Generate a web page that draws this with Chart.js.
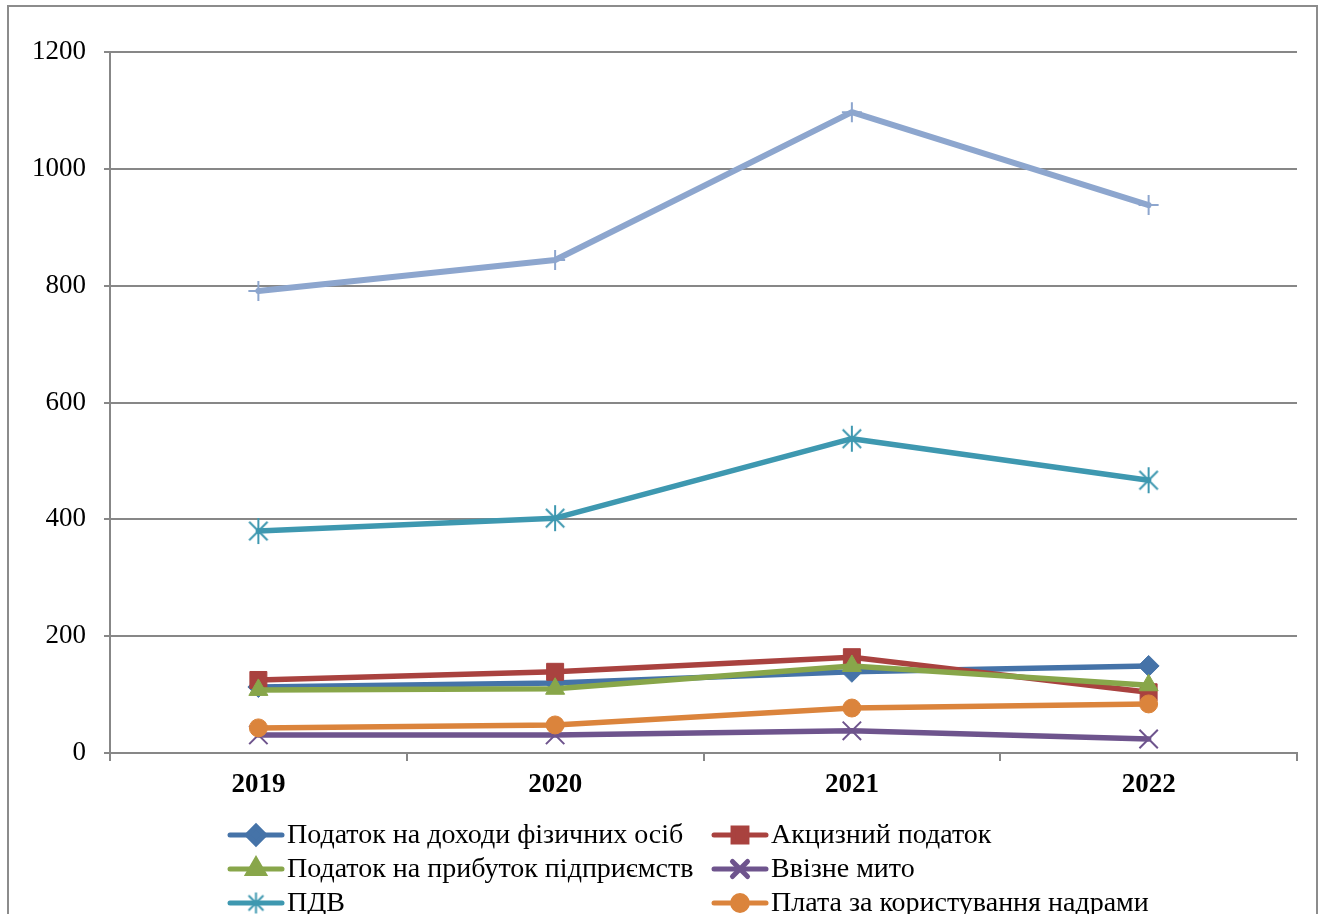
<!DOCTYPE html>
<html>
<head>
<meta charset="utf-8">
<script src="https://cdn.jsdelivr.net/npm/chart.js"></script>
<style>
  html, body { margin: 0; padding: 0; width: 1323px; height: 914px; overflow: hidden; background: #fff; }
  #frame { position: absolute; left: 7px; top: 5px; width: 1307px; height: 1000px; border: 2px solid #8c8c8c; }
  #chart { position: absolute; left: 0; top: 0; }
</style>
</head>
<body>
<div id="frame"></div>
<canvas id="chart" width="1323" height="950"></canvas>
<script>
// Податкові надходження за видами, 2019–2022
const years = ['2019', '2020', '2021', '2022'];

const pdfo      = [113, 120, 139, 149];   // Податок на доходи фізичних осіб
const akcyz     = [125, 139, 164, 104];   // Акцизний податок
const prybutok  = [108, 110, 149, 116];   // Податок на прибуток підприємств
const myto      = [31, 31, 38, 24];       // Ввізне мито
const pdv       = [380, 402, 538, 467];   // ПДВ
const nadra     = [43, 48, 77, 84];       // Плата за користування надрами
const razom     = [791, 844, 1097, 938];  // Разом

const yTicks = [0, 200, 400, 600, 800, 1000, 1200];

const SERIF = '"Liberation Serif", "Times New Roman", serif';
const GRID = '#878787';

// asterisk marker: X with a vertical stroke
function asterisk(color, r, w) {
  const c = document.createElement('canvas');
  const s = Math.ceil(2 * r + 4);
  c.width = s; c.height = s;
  const g = c.getContext('2d');
  const m = s / 2, d = r * Math.SQRT1_2;
  g.strokeStyle = color; g.lineWidth = w;
  g.beginPath();
  g.moveTo(m - d, m - d); g.lineTo(m + d, m + d);
  g.moveTo(m + d, m - d); g.lineTo(m - d, m + d);
  g.moveTo(m, m - r); g.lineTo(m, m + r);
  g.stroke();
  return c;
}

function series(label, data, color, style, radius, pbw, lw, legendStyle) {
  return {
    label, data,
    borderColor: color, backgroundColor: color,
    pointBackgroundColor: color, pointBorderColor: color,
    borderWidth: lw, tension: 0,
    borderJoinStyle: 'round', borderCapStyle: 'round',
    pointStyle: style, pointRadius: radius, pointHoverRadius: radius,
    pointBorderWidth: pbw,
    legendStyle: legendStyle || style
  };
}

const datasets = [
  series('Податок на доходи фізичних осіб', pdfo, '#4573A8', 'rectRot', 10.5, 1, 5.5),
  series('Акцизний податок', akcyz, '#A9423F', 'rect', 12, 1, 5.5),
  series('Податок на прибуток підприємств', prybutok, '#88A64A', 'triangle', 11, 1, 5.5),
  series('Ввізне мито', myto, '#6E548D', 'crossRot', 13, 2, 5.5),
  series('ПДВ', pdv, '#3E98B0', asterisk('#3E98B0', 13, 2), 13, 2, 5.5, asterisk('#3E98B0', 10.5, 2)),
  series('Плата за користування надрами', nadra, '#DB843C', 'circle', 9, 1, 5.5),
  series('Разом', razom, '#8DA6CE', 'cross', 10, 2, 6)
];
// later series are painted over earlier ones
datasets.forEach((d, i) => { d.order = datasets.length - i; });

// two-column legend laid out under the axis
const legendGrid = {
  id: 'legendGrid',
  afterDraw(chart, args, opts) {
    const ctx = chart.ctx;
    const H = Chart.helpers;
    opts.items.forEach((it) => {
      const ds = chart.data.datasets[it.index];
      const x0 = opts.cols[it.col], y = opts.rows[it.row];
      ctx.save();
      ctx.strokeStyle = ds.borderColor;
      ctx.lineWidth = 5;
      ctx.lineCap = 'round';
      ctx.beginPath();
      ctx.moveTo(x0 + 2, y); ctx.lineTo(x0 + opts.lineLen - 2, y);
      ctx.stroke();
      ctx.fillStyle = ds.pointBackgroundColor;
      ctx.strokeStyle = ds.pointBorderColor;
      H.drawPoint(ctx, {
        pointStyle: ds.legendStyle, radius: ds.pointRadius * opts.markerScale,
        rotation: 0, borderWidth: ds.pointBorderWidth
      }, x0 + opts.lineLen / 2, y);
      ctx.fillStyle = '#000';
      ctx.font = '28px ' + SERIF;
      ctx.textBaseline = 'middle';
      ctx.textAlign = 'left';
      ctx.fillText(ds.label, x0 + opts.lineLen + 3, y + 1);
      ctx.restore();
    });
  }
};

new Chart(document.getElementById('chart'), {
  type: 'line',
  data: { labels: years, datasets },
  plugins: [legendGrid],
  options: {
    responsive: false,
    animation: false,
    devicePixelRatio: 1,
    layout: { padding: { left: 0, right: 26, top: 52, bottom: 140 } },
    plugins: {
      legend: { display: false },
      tooltip: { enabled: false },
      legendGrid: {
        cols: [228, 712],
        rows: [835, 869, 903, 937],
        lineLen: 56,
        markerScale: 0.82,
        items: [
          { index: 0, col: 0, row: 0 }, { index: 1, col: 1, row: 0 },
          { index: 2, col: 0, row: 1 }, { index: 3, col: 1, row: 1 },
          { index: 4, col: 0, row: 2 }, { index: 5, col: 1, row: 2 }
        ]
      }
    },
    scales: {
      x: {
        offset: true,
        afterFit(s) { s.height = 57; },
        grid: { offset: true, drawOnChartArea: false, drawTicks: true, tickLength: 8, color: GRID, lineWidth: 2 },
        border: { color: GRID, width: 2 },
        ticks: { color: '#000', padding: 8, font: { family: SERIF, size: 27, weight: 'bold' } }
      },
      y: {
        min: 0, max: 1200,
        afterFit(s) { s.width = 110; },
        afterBuildTicks(s) { s.ticks = yTicks.map(v => ({ value: v })); },
        grid: { color: GRID, lineWidth: 2, tickLength: 6 },
        border: { color: GRID, width: 2 },
        ticks: { color: '#000', padding: 18, font: { family: SERIF, size: 27 }, callback: (v) => String(v) }
      }
    }
  }
});
</script>
</body>
</html>
